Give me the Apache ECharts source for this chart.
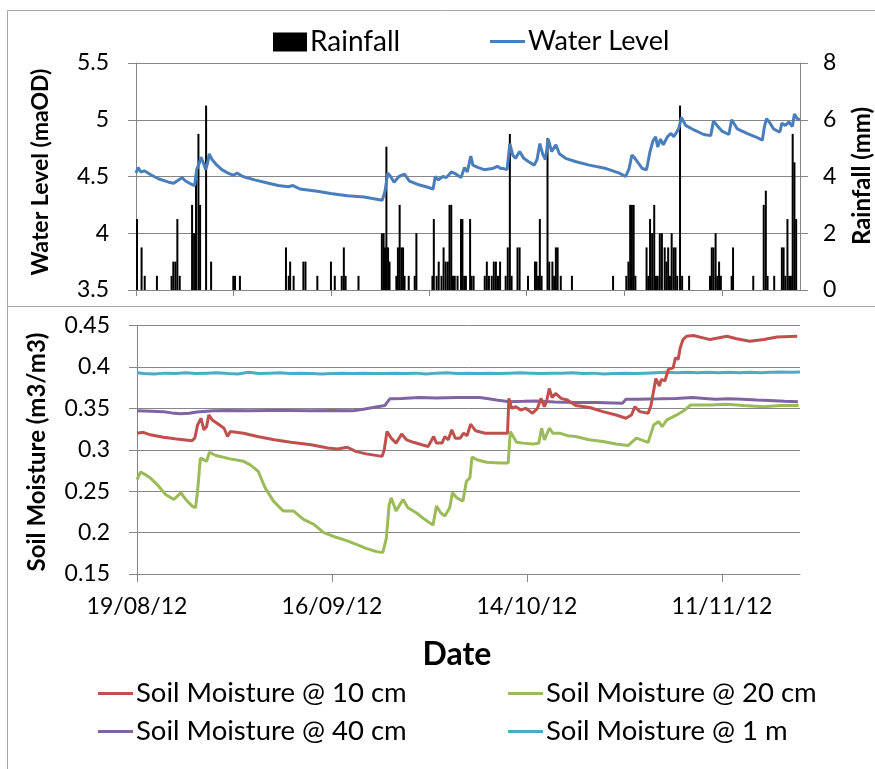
<!DOCTYPE html>
<html>
<head>
<meta charset="utf-8">
<script src="https://cdn.jsdelivr.net/npm/echarts@6/dist/echarts.min.js"></script>
<style>
html,body{margin:0;padding:0;background:#fff;}
#chart{width:875px;height:769px;}
</style>
</head>
<body>
<div id="chart"></div>
<script>
// ---- Data (x values are days since 19/08/12) ----
const startDate = [2012, 7, 19];
const xMaxDays = 95.2;
const topTickDays = [0, 14, 28, 42, 56, 70, 84];
const bottomTickDays = [0, 28, 56, 84];

const rainDay = [0.14,0.8,1.25,3.0,5.1,5.35,5.65,5.93,6.27,8.04,8.33,8.6,8.95,9.19,10.05,10.77,
  13.95,14.2,14.9,21.5,21.9,22.1,22.6,24.0,24.3,26.0,27.95,28.5,29.5,29.8,30.05,31.9,
  35.25,35.5,35.7,35.9,36.14,36.35,37.33,37.55,37.8,38.05,38.29,38.5,39.1,39.96,40.2,
  42.5,42.7,43.1,43.4,43.8,44.1,44.4,44.7,44.95,45.2,45.45,45.7,46.1,46.6,46.8,47.05,47.3,
  47.9,48.1,48.4,50.0,50.3,50.6,51.0,51.3,51.6,51.9,52.2,53.0,53.3,53.6,53.85,54.7,55.0,
  56.2,57.2,57.4,57.65,57.9,58.15,59.0,59.25,59.7,59.95,60.2,60.45,60.9,62.5,68.4,
  70.3,70.6,70.85,71.1,71.35,71.6,73.2,73.45,73.7,74.0,74.3,74.55,74.8,75.1,75.4,75.8,
  76.05,76.3,76.55,76.8,77.1,77.35,77.6,78.0,78.3,79.3,82.3,82.55,82.8,83.1,83.35,83.6,
  83.85,85.4,85.6,88.5,90.0,90.3,90.55,91.5,92.6,92.85,93.1,93.4,93.65,93.9,94.15,94.4,94.65];
const rainMm = [2.5,1.5,0.5,0.5,0.5,1.0,1.0,2.5,0.5,3.0,2.0,4.0,5.5,3.0,6.5,1.0,
  0.5,0.5,0.5,1.5,0.5,1.0,0.5,1.0,1.0,0.5,1.0,0.5,0.5,1.5,0.5,0.5,
  2.0,2.0,1.5,5.05,1.5,1.0,0.5,1.5,3.0,1.5,1.5,0.5,0.5,0.5,2.0,
  0.5,2.5,0.5,1.0,0.5,1.5,1.0,1.0,3.0,3.0,0.5,0.5,0.5,2.5,2.5,0.5,0.5,
  2.5,0.5,0.5,0.5,1.0,0.5,0.5,1.0,1.0,0.5,1.0,0.5,1.5,5.5,0.5,1.5,1.5,
  0.5,1.0,1.0,0.5,2.5,0.5,5.35,1.0,1.0,0.5,1.5,1.5,0.5,0.5,0.5,
  0.5,1.0,3.0,3.0,3.0,0.5,1.5,0.5,2.5,2.0,3.0,0.5,0.5,2.0,2.0,1.5,
  1.0,1.5,0.5,2.0,1.5,1.5,0.5,6.5,0.5,0.5,0.5,1.5,1.5,2.0,0.5,1.0,
  0.5,0.5,1.5,0.5,3.0,3.5,0.5,0.5,1.5,1.5,0.5,2.5,0.5,0.5,5.5,4.5,2.5];

const levelDay = [0,0.3,0.7,1.2,2.0,3.2,4.7,5.4,6.1,6.6,7.1,8.0,8.4,8.7,9.1,9.3,9.6,10.0,10.3,10.5,10.9,
  11.6,12.3,13.2,14.0,14.5,15.3,17.0,19.0,20.4,21.8,22.5,23.5,26.0,27.9,30.3,32.7,35.3,35.7,36.1,
  36.5,37.0,37.7,38.5,39.2,40.4,41.6,42.6,42.9,43.3,44.0,44.5,45.2,45.9,46.6,47.1,47.5,48.0,48.3,
  49.0,49.9,51.1,51.8,52.3,52.7,53.2,53.6,54.0,54.4,55.0,55.6,56.3,57.1,57.5,57.9,58.3,58.7,59.1,
  59.6,60.2,60.7,61.6,63.1,65.0,67.4,69.3,70.2,70.7,71.1,71.4,72.0,72.6,73.2,73.7,74.1,74.5,74.8,
  75.2,75.6,76.2,76.7,77.1,77.5,77.8,78.2,78.8,80.0,81.4,82.4,82.8,83.3,84.0,85.0,85.4,86.2,87.6,
  88.8,89.8,90.1,90.4,90.9,91.4,92.3,92.6,93.1,93.6,94.1,94.4,94.8,95.2];
const levelM = [4.53,4.58,4.54,4.55,4.52,4.48,4.45,4.44,4.47,4.49,4.46,4.43,4.42,4.56,4.62,4.67,4.63,4.56,4.63,4.70,4.65,
  4.60,4.56,4.53,4.51,4.53,4.50,4.47,4.44,4.42,4.41,4.42,4.39,4.37,4.35,4.33,4.32,4.29,4.37,4.53,
  4.50,4.45,4.50,4.52,4.46,4.43,4.41,4.39,4.50,4.47,4.50,4.49,4.54,4.52,4.49,4.58,4.54,4.68,4.60,
  4.58,4.56,4.57,4.59,4.57,4.57,4.56,4.79,4.69,4.66,4.72,4.66,4.63,4.60,4.65,4.79,4.70,4.65,4.83,
  4.72,4.78,4.70,4.66,4.63,4.60,4.57,4.53,4.50,4.57,4.69,4.67,4.62,4.57,4.56,4.72,4.81,4.85,4.76,
  4.83,4.78,4.85,4.88,4.85,4.89,4.92,5.02,4.95,4.91,4.87,4.86,4.99,4.95,4.90,4.87,5.00,4.92,4.88,
  4.85,4.82,4.94,5.01,4.97,4.92,4.89,4.97,4.95,4.98,4.94,5.05,5.01,5.00];

const sm10Day = [0,0.9,1.9,3.8,5.7,7.9,8.3,8.7,9.2,9.6,10.0,10.3,10.8,11.5,12.5,13.0,13.4,15.3,17.3,19.7,22.1,25.0,27.4,28.8,30.2,31.4,
  32.9,35.2,35.5,35.9,36.5,37.2,38.0,38.7,39.7,40.9,41.8,42.6,43.0,43.8,44.2,44.7,45.2,45.7,46.4,46.9,47.4,47.9,48.6,50.0,52.0,53.2,
  53.4,53.8,54.4,55.1,55.8,56.8,57.5,58.0,58.5,58.8,59.2,59.6,60.1,60.9,61.8,63.0,65.0,66.9,68.8,70.2,71.0,71.5,72.2,73.4,73.8,74.2,
  74.5,75.0,75.3,75.8,76.3,77.0,77.3,77.7,78.0,78.4,78.9,79.9,82.3,84.7,86.1,88.0,90.0,91.9,94.8];
const sm10 = [0.320,0.321,0.318,0.315,0.313,0.311,0.314,0.330,0.338,0.324,0.328,0.342,0.336,0.332,0.326,0.316,0.322,0.320,0.316,0.312,0.309,0.306,0.302,0.301,0.303,0.298,
  0.295,0.292,0.300,0.322,0.314,0.308,0.319,0.312,0.309,0.306,0.304,0.316,0.308,0.308,0.316,0.312,0.324,0.314,0.314,0.320,0.317,0.331,0.323,0.320,0.320,0.320,
  0.362,0.350,0.352,0.348,0.350,0.344,0.350,0.362,0.352,0.358,0.374,0.363,0.368,0.362,0.360,0.3535,0.351,0.346,0.342,0.338,0.342,0.352,0.346,0.344,0.3535,0.372,
  0.386,0.377,0.385,0.383,0.397,0.399,0.411,0.409,0.423,0.433,0.437,0.438,0.433,0.437,0.434,0.431,0.433,0.436,0.437];

const sm20Day = [0,0.5,1.2,1.9,2.9,4.1,5.3,6.3,7.0,7.9,8.4,8.7,9.1,9.6,10.0,10.4,11.3,13.4,15.3,16.2,17.4,18.4,19.6,21.0,22.5,23.9,25.4,26.8,28.7,30.2,31.4,
  32.9,34.4,35.3,35.8,36.2,36.5,37.2,38.2,38.9,40.1,41.3,42.5,43.0,43.6,44.2,44.9,45.3,45.9,46.8,47.3,47.8,48.1,48.8,50.2,52.1,53.3,53.6,54.5,55.4,56.9,57.7,
  58.1,58.5,59.2,59.7,60.7,61.8,63.0,64.9,66.9,68.8,70.5,71.7,73.4,74.2,74.9,75.4,76.1,77.5,78.5,79.5,82.3,84.7,87.1,90.0,92.4,95.0];
const sm20 = [0.264,0.273,0.270,0.266,0.258,0.246,0.240,0.248,0.240,0.232,0.230,0.250,0.290,0.288,0.286,0.297,0.293,0.289,0.286,0.282,0.274,0.254,0.238,0.226,0.226,0.216,0.210,0.200,0.194,0.190,0.186,
  0.181,0.177,0.176,0.193,0.233,0.242,0.226,0.240,0.230,0.224,0.216,0.209,0.232,0.224,0.220,0.230,0.248,0.242,0.238,0.262,0.266,0.291,0.288,0.285,0.284,0.284,0.322,0.309,0.308,0.307,0.308,
  0.326,0.312,0.326,0.320,0.320,0.317,0.316,0.312,0.310,0.307,0.305,0.314,0.309,0.330,0.334,0.328,0.336,0.342,0.347,0.354,0.354,0.355,0.3535,0.352,0.3535,0.3535];

const sm40Day = [0,2,3.8,5,6.2,7.5,8.6,10,11,13,16,19,22,25,28,31,32.5,33.9,35.6,36.3,38,40.6,43,46,49.2,50.5,51.6,53.5,55.5,57.3,60,63,66,69.7,70.2,72,75,77.4,79.8,81.5,83.1,85,87,89,90.8,93,94.9];
const sm40 = [0.347,0.3465,0.346,0.3445,0.3435,0.344,0.3455,0.3465,0.347,0.3475,0.347,0.3475,0.3475,0.347,0.3475,0.347,0.349,0.351,0.3535,0.3615,0.362,0.363,0.3625,0.363,0.363,0.3615,0.360,0.358,0.3585,0.359,0.3575,0.357,0.357,0.356,0.361,0.361,0.3615,0.362,0.363,0.362,0.361,0.3615,0.361,0.360,0.3595,0.3585,0.358];

const sm100Day = [0,1,2.5,4,5.5,7,8.5,10,11.5,13,14.5,16,17.5,19,20.5,22,23.5,25,26.5,28,29.5,31,32.5,34,35.5,37,38.5,40,41.5,43,44.5,46,47.5,49,50.5,52,53.5,55,56.5,58,59.5,61,62.5,64,65.5,67,68.5,70,71.5,73,74.5,76,77.5,79,80.5,82,83.5,85,86.5,88,89.5,91,92.5,94,95.2];
const sm100 = [0.393,0.392,0.3915,0.3925,0.392,0.393,0.392,0.3925,0.393,0.392,0.3915,0.3935,0.392,0.3925,0.393,0.392,0.3925,0.392,0.3915,0.392,0.3925,0.392,0.3925,0.392,0.392,0.3925,0.392,0.3925,0.3915,0.3925,0.393,0.392,0.3925,0.392,0.3925,0.392,0.3925,0.393,0.3925,0.392,0.3925,0.3925,0.393,0.392,0.3925,0.3915,0.392,0.3925,0.392,0.3925,0.393,0.3935,0.393,0.3935,0.393,0.3935,0.393,0.3935,0.393,0.3935,0.393,0.3935,0.394,0.3935,0.394];

// ---- helpers ----
function zip(xs, ys) { return xs.map((x, i) => [x, ys[i]]); }
const startMs = Date.UTC(startDate[0], startDate[1], startDate[2]);
function fmtDate(days) {
  const d = new Date(startMs + days * 86400000);
  const p = n => String(n).padStart(2, '0');
  return p(d.getUTCDate()) + '/' + p(d.getUTCMonth() + 1) + '/' + String(d.getUTCFullYear()).slice(2);
}

const FONT = 'Lato';
const AX = '#868686';
const tickFont = 23;

const chart = echarts.init(document.getElementById('chart'), null, {renderer: 'canvas'});

function legendItem(name, left, top, w, h, fs) {
  return {
    data: [{name: name, icon: 'rect'}],
    left: left, top: top, itemWidth: w, itemHeight: h, itemGap: 0, padding: 0,
    selectedMode: false,
    textStyle: {fontFamily: FONT, fontSize: fs, color: '#000', padding: [0, 0, 0, -2]}
  };
}

const option = {
  animation: false,
  backgroundColor: '#fff',
  grid: [
    {left: 136, right: 75, top: 63, height: 227},
    {left: 137, right: 75, top: 325.5, height: 248.5}
  ],
  xAxis: [
    {type: 'value', gridIndex: 0, min: 0, max: xMaxDays,
     axisLine: {show: true, lineStyle: {color: AX}},
     axisTick: {show: true, length: 6, customValues: topTickDays, lineStyle: {color: AX}},
     axisLabel: {show: false}, splitLine: {show: false}},
    {type: 'value', gridIndex: 1, min: 0, max: xMaxDays,
     axisLine: {show: true, lineStyle: {color: AX}},
     axisTick: {show: true, length: 8, customValues: bottomTickDays, lineStyle: {color: AX}},
     axisLabel: {show: true, customValues: bottomTickDays, formatter: v => fmtDate(v),
       fontFamily: FONT, fontSize: tickFont, color: '#000', margin: 21},
     splitLine: {show: false}}
  ],
  yAxis: [
    {type: 'value', gridIndex: 0, min: 3.5, max: 5.5, interval: 0.5, position: 'left',
     axisLine: {show: true, lineStyle: {color: AX}},
     axisTick: {show: true, length: 8, lineStyle: {color: AX}},
     axisLabel: {fontFamily: FONT, fontSize: tickFont, color: '#000', margin: 27},
     splitLine: {show: true, lineStyle: {color: AX, width: 1}}},
    {type: 'value', gridIndex: 0, min: 0, max: 8, interval: 2, position: 'right',
     axisLine: {show: true, lineStyle: {color: AX}},
     axisTick: {show: true, length: 8, lineStyle: {color: AX}},
     axisLabel: {fontFamily: FONT, fontSize: tickFont, color: '#000', margin: 23},
     splitLine: {show: false}},
    {type: 'value', gridIndex: 1, min: 0.15, max: 0.45, interval: 0.05,
     axisLine: {show: true, lineStyle: {color: AX}},
     axisTick: {show: true, length: 8, lineStyle: {color: AX}},
     axisLabel: {fontFamily: FONT, fontSize: tickFont, color: '#000', margin: 27,
       formatter: v => String(Math.round(v * 100) / 100)},
     splitLine: {show: true, lineStyle: {color: AX, width: 1}}}
  ],
  legend: [
    legendItem('Rainfall', 273, 28, 34, 19, 28),
    legendItem('Water Level', 490, 28, 35, 3, 27),
    legendItem('Soil Moisture @ 10 cm', 98, 679.5, 35, 3, 27.5),
    legendItem('Soil Moisture @ 20 cm', 508, 679.5, 35, 3, 27.5),
    legendItem('Soil Moisture @ 40 cm', 98, 717.5, 35, 3, 27.5),
    legendItem('Soil Moisture @ 1 m', 508, 717.5, 35, 3, 27.5)
  ],
  series: [
    {name: 'Rainfall', type: 'bar', xAxisIndex: 0, yAxisIndex: 1, barWidth: 2,
     itemStyle: {color: '#000'}, data: zip(rainDay, rainMm), z: 2},
    {name: 'Water Level', type: 'line', xAxisIndex: 0, yAxisIndex: 0, symbol: 'none',
     lineStyle: {color: '#4A7EBB', width: 3}, itemStyle: {color: '#4A7EBB'},
     data: zip(levelDay, levelM), z: 3},
    {name: 'Soil Moisture @ 1 m', type: 'line', xAxisIndex: 1, yAxisIndex: 2, symbol: 'none',
     lineStyle: {color: '#4BACC6', width: 3}, itemStyle: {color: '#4BACC6'}, data: zip(sm100Day, sm100)},
    {name: 'Soil Moisture @ 40 cm', type: 'line', xAxisIndex: 1, yAxisIndex: 2, symbol: 'none',
     lineStyle: {color: '#8064A2', width: 3}, itemStyle: {color: '#8064A2'}, data: zip(sm40Day, sm40)},
    {name: 'Soil Moisture @ 20 cm', type: 'line', xAxisIndex: 1, yAxisIndex: 2, symbol: 'none',
     lineStyle: {color: '#9BBB59', width: 3}, itemStyle: {color: '#9BBB59'}, data: zip(sm20Day, sm20)},
    {name: 'Soil Moisture @ 10 cm', type: 'line', xAxisIndex: 1, yAxisIndex: 2, symbol: 'none',
     lineStyle: {color: '#C0504D', width: 3}, itemStyle: {color: '#C0504D'}, data: zip(sm10Day, sm10)}
  ],
  graphic: [
    {type: 'rect', silent: true, shape: {x: 7.5, y: 10.5, width: 900, height: 296}, style: {fill: 'none', stroke: '#A6A6A6', lineWidth: 1}},
    {type: 'rect', silent: true, shape: {x: 7.5, y: 306.5, width: 900, height: 500}, style: {fill: 'none', stroke: '#A6A6A6', lineWidth: 1}},
    {type: 'text', x: 41, y: 172, rotation: Math.PI / 2,
     style: {text: 'Water Level (maOD)', textAlign: 'center', textVerticalAlign: 'middle', font: 'bold 23px ' + FONT, fill: '#000'}},
    {type: 'text', x: 862, y: 176, rotation: Math.PI / 2,
     style: {text: 'Rainfall (mm)', textAlign: 'center', textVerticalAlign: 'middle', font: 'bold 24px ' + FONT, fill: '#000'}},
    {type: 'text', x: 37, y: 452, rotation: Math.PI / 2,
     style: {text: 'Soil Moisture (m3/m3)', textAlign: 'center', textVerticalAlign: 'middle', font: 'bold 24px ' + FONT, fill: '#000'}},
    {type: 'text', x: 457, y: 655,
     style: {text: 'Date', textAlign: 'center', textVerticalAlign: 'middle', font: 'bold 32px ' + FONT, fill: '#000'}}
  ]
};
chart.setOption(option);
</script>
</body>
</html>
